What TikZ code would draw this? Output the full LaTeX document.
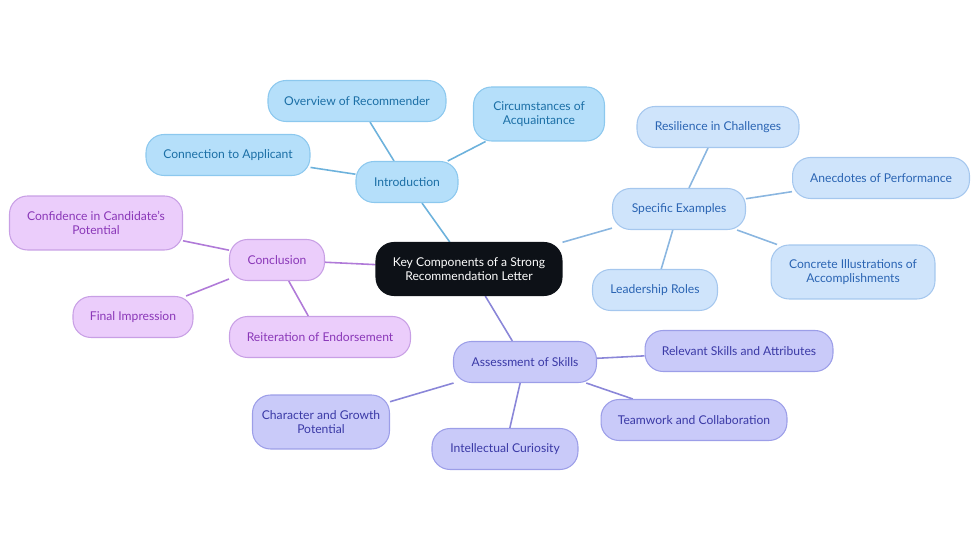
\documentclass[tikz,border=0pt]{standalone}
\usepackage{fontspec}
\setmainfont{Lato}
\usetikzlibrary{backgrounds}
\definecolor{rootfill}{HTML}{0D1117}
\definecolor{introfill}{HTML}{B5DFFA}
\definecolor{introline}{HTML}{8CC8EE}
\definecolor{introtext}{HTML}{1B6FA6}
\definecolor{introedge}{HTML}{6DB2DC}
\definecolor{exfill}{HTML}{CFE4FB}
\definecolor{exline}{HTML}{A5C7EE}
\definecolor{extext}{HTML}{2A64B3}
\definecolor{exedge}{HTML}{8AB6E0}
\definecolor{concfill}{HTML}{EBCDFB}
\definecolor{concline}{HTML}{C89FE5}
\definecolor{conctext}{HTML}{8A37B8}
\definecolor{concedge}{HTML}{B07AD8}
\definecolor{skillfill}{HTML}{C9CAF9}
\definecolor{skillline}{HTML}{9C9EE8}
\definecolor{skilltext}{HTML}{3A39A6}
\definecolor{skilledge}{HTML}{8A86D8}
\tikzset{
  box/.style={rectangle,rounded corners=0.36cm,draw,line width=0.6pt,align=center,
    font=\fontsize{6.9}{7.9}\selectfont,inner sep=2pt,minimum height=0.82cm},
  rootbox/.style={box,fill=rootfill,draw=rootfill,text=white,minimum width=3.72cm,minimum height=1.06cm},
  intro/.style={box,fill=introfill,draw=introline,text=introtext},
  ex/.style={box,fill=exfill,draw=exline,text=extext},
  conc/.style={box,fill=concfill,draw=concline,text=conctext},
  skill/.style={box,fill=skillfill,draw=skillline,text=skilltext},
  twoline/.style={minimum height=1.08cm},
  link/.style={line width=0.9pt}
}
\begin{document}
\begin{tikzpicture}[x=0.02cm,y=-0.02cm]
\useasboundingbox (0,0) rectangle (980,553);
%Trung tam
\node[rootbox] (root) at (469,269) {Key Components of a Strong\\Recommendation Letter};
%Nhanh 1: Introduction
\node[intro,minimum width=2.04cm] (intro) at (407,182) {Introduction};
\node[intro,minimum width=3.56cm] (overview) at (357,101) {Overview of Recommender};
\node[intro,twoline,minimum width=2.62cm] (circum) at (539,114) {Circumstances of\\Acquaintance};
\node[intro,minimum width=3.28cm] (connect) at (228,155) {Connection to Applicant};
%Nhanh 2: Specific Examples
\node[ex,minimum width=2.66cm] (examples) at (679,209) {Specific Examples};
\node[ex,minimum width=3.24cm] (resil) at (718,127) {Resilience in Challenges};
\node[ex,minimum width=3.54cm] (anec) at (881,178) {Anecdotes of Performance};
\node[ex,twoline,minimum width=3.28cm] (concrete) at (853,272) {Concrete Illustrations of\\Accomplishments};
\node[ex,minimum width=2.5cm] (leader) at (655,290) {Leadership Roles};
%Nhanh 3: Conclusion
\node[conc,minimum width=1.9cm] (conc) at (277,260) {Conclusion};
\node[conc,twoline,minimum width=3.46cm] (confid) at (96,223) {Confidence in Candidate's\\Potential};
\node[conc,minimum width=2.4cm] (final) at (133,317) {Final Impression};
\node[conc,minimum width=3.62cm] (reiter) at (320,337) {Reiteration of Endorsement};
%Nhanh 4: Assessment of Skills
\node[skill,minimum width=2.86cm] (skills) at (525,362) {Assessment of Skills};
\node[skill,minimum width=3.76cm] (relev) at (739,351) {Relevant Skills and Attributes};
\node[skill,minimum width=3.72cm] (team) at (694,420) {Teamwork and Collaboration};
\node[skill,minimum width=2.92cm] (curio) at (505,449) {Intellectual Curiosity};
\node[skill,twoline,minimum width=2.74cm] (charac) at (321,422) {Character and Growth\\Potential};
%Duong noi
\begin{scope}[on background layer]
\draw[link,introedge] (root) -- (intro);
\draw[link,introedge] (intro) -- (overview);
\draw[link,introedge] (intro) -- (circum);
\draw[link,introedge] (intro) -- (connect);
\draw[link,exedge] (root) -- (examples);
\draw[link,exedge] (examples) -- (resil);
\draw[link,exedge] (examples) -- (anec);
\draw[link,exedge] (examples) -- (concrete);
\draw[link,exedge] (examples) -- (leader);
\draw[link,concedge] (root) -- (conc);
\draw[link,concedge] (conc) -- (confid);
\draw[link,concedge] (conc) -- (final);
\draw[link,concedge] (conc) -- (reiter);
\draw[link,skilledge] (root) -- (skills);
\draw[link,skilledge] (skills) -- (relev);
\draw[link,skilledge] (skills) -- (team);
\draw[link,skilledge] (skills) -- (curio);
\draw[link,skilledge] (skills) -- (charac);
\end{scope}
\end{tikzpicture}
\end{document}
